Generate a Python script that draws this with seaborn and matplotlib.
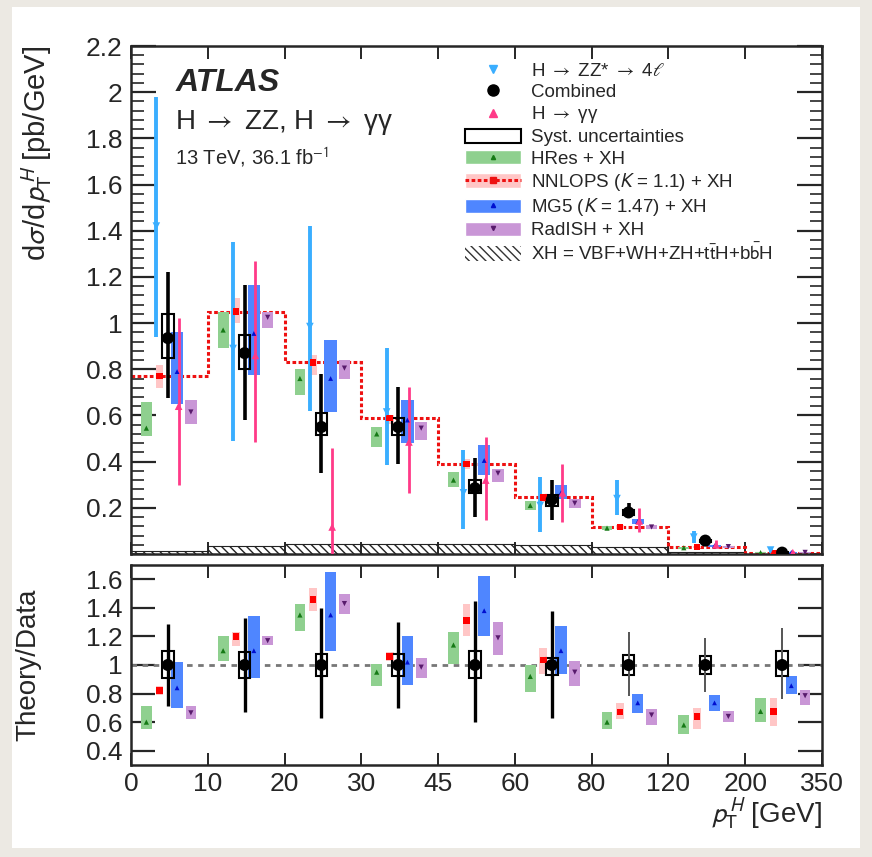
import numpy as np
import matplotlib
matplotlib.use("Agg")
import matplotlib.pyplot as plt
import seaborn as sns
from matplotlib.patches import Patch, Rectangle
from matplotlib.lines import Line2D
from matplotlib.ticker import FixedLocator, AutoMinorLocator, FuncFormatter

# style
sns.set_style("ticks")
plt.rcParams['font.family'] = ['Liberation Sans', 'DejaVu Sans']
plt.rcParams['mathtext.fontset'] = 'stixsans'
plt.rcParams['hatch.linewidth'] = 1.0

# bins (drawn with equal width)
bin_labels = ["0", "10", "20", "30", "45", "60", "80", "120", "200", "350"]

# top panel: d sigma / d pT [pb/GeV]
zz_val = [1.42, 0.89, 0.985, 0.615, 0.265, 0.21, 0.24, 0.073, 0.017]
zz_lo = [0.94, 0.49, 0.62, 0.385, 0.11, 0.095, 0.17, 0.047, 0.005]
zz_hi = [1.98, 1.35, 1.42, 0.89, 0.45, 0.335, 0.32, 0.10, 0.03]

comb_val = [0.935, 0.87, 0.55, 0.55, 0.285, 0.235, 0.18, 0.058, 0.006]
comb_lo = [0.675, 0.58, 0.35, 0.39, 0.16, 0.147, 0.155, 0.045, 0.002]
comb_hi = [1.22, 1.165, 0.78, 0.725, 0.415, 0.32, 0.22, 0.072, 0.011]
syst_lo = [0.85, 0.80, 0.515, 0.515, 0.265, 0.21, 0.17, 0.054, 0.005]
syst_hi = [1.04, 0.95, 0.61, 0.59, 0.32, 0.255, 0.19, 0.062, 0.007]

gg_val = [0.64, 0.86, 0.117, 0.485, 0.32, 0.265, 0.143, 0.04, 0.006]
gg_lo = [0.30, 0.485, 0.0, 0.265, 0.147, 0.14, 0.095, 0.026, 0.001]
gg_hi = [1.02, 1.27, 0.46, 0.725, 0.505, 0.39, 0.20, 0.06, 0.011]

hres_val = [0.545, 0.97, 0.76, 0.52, 0.32, 0.21, 0.112, 0.027, 0.006]
hres_lo = [0.51, 0.89, 0.69, 0.465, 0.29, 0.19, 0.104, 0.022, 0.004]
hres_hi = [0.66, 1.05, 0.80, 0.55, 0.355, 0.23, 0.122, 0.032, 0.008]

nnlops_val = [0.77, 1.05, 0.83, 0.59, 0.39, 0.245, 0.117, 0.03, 0.005]
nnlops_lo = [0.72, 1.0, 0.775, 0.565, 0.37, 0.225, 0.11, 0.026, 0.004]
nnlops_hi = [0.82, 1.11, 0.86, 0.60, 0.41, 0.26, 0.125, 0.034, 0.006]

mg5_val = [0.79, 0.955, 0.76, 0.58, 0.405, 0.265, 0.14, 0.036, 0.007]
mg5_lo = [0.65, 0.775, 0.615, 0.48, 0.34, 0.24, 0.13, 0.031, 0.006]
mg5_hi = [0.96, 1.165, 0.925, 0.665, 0.47, 0.30, 0.15, 0.041, 0.009]

radish_val = [0.615, 1.025, 0.805, 0.545, 0.35, 0.22, 0.117, 0.032, 0.007]
radish_lo = [0.565, 0.98, 0.76, 0.495, 0.31, 0.20, 0.11, 0.028, 0.006]
radish_hi = [0.665, 1.05, 0.84, 0.57, 0.37, 0.24, 0.125, 0.036, 0.008]

xh_val = [0.012, 0.035, 0.045, 0.045, 0.045, 0.04, 0.03, 0.008, 0.002]

# ratio panel: theory / data
r_comb_lo = [0.71, 0.67, 0.63, 0.70, 0.60, 0.63, 0.78, 0.81, 0.76]
r_comb_hi = [1.29, 1.33, 1.40, 1.30, 1.45, 1.38, 1.23, 1.19, 1.26]
r_syst_lo = [0.91, 0.91, 0.92, 0.92, 0.91, 0.93, 0.93, 0.94, 0.92]
r_syst_hi = [1.10, 1.09, 1.08, 1.08, 1.10, 1.05, 1.07, 1.06, 1.10]

r_hres_val = [0.60, 1.10, 1.35, 0.95, 1.14, 0.92, 0.60, 0.58, 0.675]
r_hres_lo = [0.55, 1.03, 1.24, 0.85, 1.01, 0.81, 0.55, 0.515, 0.60]
r_hres_hi = [0.71, 1.20, 1.43, 1.01, 1.23, 1.00, 0.67, 0.65, 0.77]

r_nnlops_val = [0.82, 1.20, 1.46, 1.06, 1.31, 1.035, 0.67, 0.64, 0.675]
r_nnlops_lo = [0.79, 1.13, 1.38, 1.03, 1.20, 0.94, 0.62, 0.55, 0.57]
r_nnlops_hi = [0.85, 1.23, 1.54, 1.09, 1.43, 1.12, 0.735, 0.70, 0.77]

r_mg5_val = [0.84, 1.10, 1.35, 1.02, 1.38, 1.10, 0.735, 0.735, 0.855]
r_mg5_lo = [0.70, 0.91, 1.10, 0.86, 1.20, 0.94, 0.665, 0.675, 0.80]
r_mg5_hi = [1.02, 1.34, 1.65, 1.20, 1.625, 1.27, 0.80, 0.79, 0.92]

r_radish_val = [0.665, 1.17, 1.43, 0.985, 1.19, 0.95, 0.65, 0.64, 0.785]
r_radish_lo = [0.62, 1.14, 1.36, 0.91, 1.07, 0.85, 0.58, 0.60, 0.72]
r_radish_hi = [0.71, 1.20, 1.50, 1.05, 1.30, 1.03, 0.69, 0.68, 0.825]

# colours
zz_col = "#3aaeff"
gg_col = "#ff3a88"
hres_face, hres_mark = "#8fd08f", "#167a16"
nnlops_face, nnlops_mark = "#ffc6c6", "#ff0000"
mg5_face, mg5_mark = "#4f86ff", "#0010d0"
radish_face, radish_mark = "#c996d6", "#581a6c"

nb = len(bin_labels) - 1
idx = np.arange(nb)
edges = np.arange(nb + 1)
# x offset inside each bin
off = dict(hres=0.2, zz=0.33, nnlops=0.37, comb=0.48, mg5=0.6, gg=0.62, radish=0.78)


def band(ax, key, lo, hi, color, width=0.14, z=3):
    ax.bar(idx + off[key], np.subtract(hi, lo), bottom=lo, width=width,
           color=color, linewidth=0, zorder=z)


def marks(ax, key, val, color, marker, s, z=6):
    sns.scatterplot(x=idx + off[key], y=val, ax=ax, marker=marker, color=color,
                    s=s, edgecolor="none", zorder=z, legend=False)


fig = plt.figure(figsize=(8.72, 8.57), dpi=100, facecolor="#ece9e3")
fig.add_artist(Rectangle((12 / 872, 1 - 848 / 857), 848 / 872, 841 / 857,
                         transform=fig.transFigure, facecolor="white",
                         edgecolor="none", zorder=-5))

ax = fig.add_axes([131 / 872, 1 - 554 / 857, 691 / 872, 508 / 857])
axr = fig.add_axes([131 / 872, 1 - 765 / 857, 691 / 872, 200 / 857])

# ---- top panel
ax.stairs(xh_val, edges, fill=True, baseline=0, facecolor="none", edgecolor="#222222",
          hatch="\\\\\\\\", linewidth=0, zorder=1)
ax.stairs(xh_val, edges, baseline=0, color="#222222", linewidth=0.8, zorder=1)
ax.stairs(nnlops_val, edges, baseline=None, color="#ee1111",
          linestyle=(0, (1.2, 0.8)), linewidth=2.2, zorder=2)

band(ax, "hres", hres_lo, hres_hi, hres_face)
band(ax, "nnlops", nnlops_lo, nnlops_hi, nnlops_face, width=0.1)
band(ax, "mg5", mg5_lo, mg5_hi, mg5_face, width=0.16)
band(ax, "radish", radish_lo, radish_hi, radish_face, width=0.15)
ax.bar(idx + off["comb"], np.subtract(syst_hi, syst_lo), bottom=syst_lo, width=0.15,
       fill=False, edgecolor="black", linewidth=1.5, zorder=5)

ax.vlines(idx + off["zz"], zz_lo, zz_hi, color=zz_col, linewidth=2.8, zorder=4)
ax.vlines(idx + off["gg"], gg_lo, gg_hi, color=gg_col, linewidth=2.0, zorder=4)
ax.vlines(idx + off["comb"], comb_lo, comb_hi, color="black", linewidth=2.6, zorder=5)

marks(ax, "hres", hres_val, hres_mark, "^", 14)
marks(ax, "nnlops", nnlops_val, nnlops_mark, "s", 22)
marks(ax, "mg5", mg5_val, mg5_mark, "^", 12)
marks(ax, "radish", radish_val, radish_mark, "v", 14)
marks(ax, "zz", zz_val, zz_col, "v", 30)
marks(ax, "gg", gg_val, gg_col, "^", 30)
marks(ax, "comb", comb_val, "black", "o", 75, z=7)

ax.set_xlim(0, nb)
ax.set_ylim(0, 2.2)
ax.xaxis.set_major_locator(FixedLocator(edges))
ax.yaxis.set_major_locator(FixedLocator(np.round(np.arange(0.2, 2.21, 0.2), 1)))
ax.yaxis.set_minor_locator(AutoMinorLocator(5))
ax.yaxis.set_major_formatter(FuncFormatter(lambda v, p: f"{v:g}"))
ax.tick_params(axis="both", which="both", direction="in", top=True, right=True)
ax.tick_params(axis="y", which="major", length=18, width=1.6, labelsize=19, pad=6)
ax.tick_params(axis="y", which="minor", length=9, width=1.2)
ax.tick_params(axis="x", which="major", length=9, width=1.4, labelbottom=False)
for s in ax.spines.values():
    s.set_linewidth(1.8)
ax.set_ylabel(r"d$\sigma$/d$p_{\mathrm{T}}^{\,H}$ [pb/GeV]", fontsize=21, loc="top")
ax.yaxis.set_label_coords(-0.112, 1.0)

ax.text(0.064, 0.927, "ATLAS", transform=ax.transAxes, fontsize=23,
        fontweight="bold", fontstyle="italic", va="center", ha="left")
ax.text(0.064, 0.850, r"H $\rightarrow$ ZZ, H $\rightarrow$ γγ",
        transform=ax.transAxes, fontsize=20, va="center", ha="left")
ax.text(0.064, 0.780, r"13 TeV, 36.1 fb$^{-1}$", transform=ax.transAxes, fontsize=14.5,
        va="center", ha="left")

handles = [
    Line2D([], [], ls="none", marker="v", color=zz_col, ms=6),
    Line2D([], [], ls="none", marker="o", color="black", ms=8),
    Line2D([], [], ls="none", marker="^", color=gg_col, ms=6),
    Patch(facecolor="white", edgecolor="black", linewidth=1.5),
    (Patch(facecolor=hres_face), Line2D([], [], ls="none", marker="^", color=hres_mark, ms=3)),
    (Patch(facecolor=nnlops_face), Line2D([], [], color="#ee1111", ls=(0, (1.2, 0.8)), lw=2.2,
                                          marker="s", ms=5)),
    (Patch(facecolor=mg5_face), Line2D([], [], ls="none", marker="^", color=mg5_mark, ms=3)),
    (Patch(facecolor=radish_face), Line2D([], [], ls="none", marker="v", color=radish_mark, ms=3)),
    Patch(facecolor="white", edgecolor="#333333", hatch="\\\\\\\\", linewidth=0),
]
labels = [
    r"H $\rightarrow$ ZZ* $\rightarrow$ 4$\ell$",
    "Combined",
    r"H $\rightarrow$ γγ",
    "Syst. uncertainties",
    "HRes + XH",
    r"NNLOPS ($K$ = 1.1) + XH",
    r"MG5 ($K$ = 1.47) + XH",
    "RadISH + XH",
    r"XH = VBF+WH+ZH+t$\bar{\mathrm{t}}$H+b$\bar{\mathrm{b}}$H",
]
ax.legend(handles, labels, loc="upper left", bbox_to_anchor=(0.483, 0.968),
          frameon=False, fontsize=13.5, borderpad=0, borderaxespad=0,
          handlelength=3.0, handleheight=0.8, handletextpad=0.55, labelspacing=0.18)

# ---- ratio panel
axr.axhline(1, color="#777777", linestyle=(0, (2, 2)), linewidth=2, zorder=1)
band(axr, "hres", r_hres_lo, r_hres_hi, hres_face)
band(axr, "nnlops", r_nnlops_lo, r_nnlops_hi, nnlops_face, width=0.1)
band(axr, "mg5", r_mg5_lo, r_mg5_hi, mg5_face, width=0.15)
band(axr, "radish", r_radish_lo, r_radish_hi, radish_face, width=0.14)
axr.bar(idx + off["comb"], np.subtract(r_syst_hi, r_syst_lo), bottom=r_syst_lo, width=0.15,
        fill=False, edgecolor="black", linewidth=1.5, zorder=5)
axr.vlines(idx[:6] + off["comb"], r_comb_lo[:6], r_comb_hi[:6], color="black",
           linewidth=2.4, zorder=5)
axr.vlines(idx[6:] + off["comb"], r_comb_lo[6:], r_comb_hi[6:], color="#555555",
           linewidth=1.4, zorder=5)

marks(axr, "hres", r_hres_val, hres_mark, "^", 14)
marks(axr, "nnlops", r_nnlops_val, nnlops_mark, "s", 22)
marks(axr, "mg5", r_mg5_val, mg5_mark, "^", 12)
marks(axr, "radish", r_radish_val, radish_mark, "v", 14)
marks(axr, "comb", np.ones(nb), "black", "o", 75, z=7)

axr.set_xlim(0, nb)
axr.set_ylim(0.3, 1.7)
axr.xaxis.set_major_locator(FixedLocator(edges))
axr.set_xticklabels(bin_labels)
axr.yaxis.set_major_locator(FixedLocator([0.4, 0.6, 0.8, 1.0, 1.2, 1.4, 1.6]))
axr.yaxis.set_major_formatter(FuncFormatter(lambda v, p: f"{v:g}"))
axr.tick_params(axis="both", which="both", direction="in", top=True, right=True)
axr.tick_params(axis="y", which="major", length=17, width=1.6, labelsize=19, pad=6)
axr.tick_params(axis="x", which="major", length=9, width=1.4, labelsize=19, pad=5)
for s in axr.spines.values():
    s.set_linewidth(1.8)
axr.set_ylabel("Theory/Data", fontsize=20)
axr.yaxis.set_label_coords(-0.13, 0.5)
axr.set_xlabel(r"$p_{\mathrm{T}}^{\,H}$ [GeV]", fontsize=20, loc="right")
axr.xaxis.set_label_coords(1.0, -0.16)

fig.savefig("out.png", dpi=100)
